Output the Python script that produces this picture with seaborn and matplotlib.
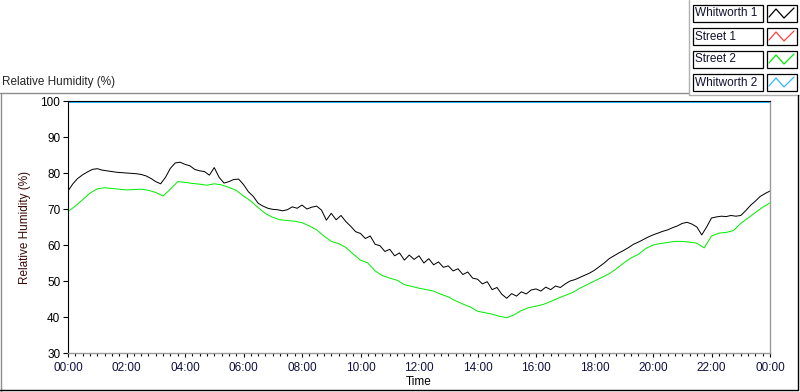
import numpy as np
import pandas as pd
import seaborn as sns
import matplotlib.pyplot as plt
from matplotlib.lines import Line2D
from matplotlib.patches import Rectangle
from matplotlib.ticker import MultipleLocator, FuncFormatter

# --- data ---
series_names = ["Whitworth 1", "Street 1", "Street 2", "Whitworth 2"]
series_colors = ["#000000", "#ff4040", "#00ee00", "#30b8ff"]

# Whitworth 1: 10-minute readings, one row per hour
w1_rh = [
    75.0, 77.0, 78.5, 79.5, 80.3, 81.0,   # 00
    81.2, 80.8, 80.6, 80.4, 80.2, 80.1,   # 01
    80.0, 79.9, 79.8, 79.6, 79.2, 78.5,   # 02
    77.6, 77.0, 78.8, 81.3, 82.8, 83.0,   # 03
    82.4, 82.0, 81.0, 80.6, 80.4, 79.4,   # 04
    81.5, 78.8, 77.2, 77.6, 78.2, 78.3,   # 05
    76.8, 74.8, 73.5, 71.6, 70.8, 70.2,   # 06
    69.9, 69.8, 69.5, 69.8, 70.6, 70.2,   # 07
    71.1, 70.0, 70.5, 70.8, 69.7, 66.9,   # 08
    68.8, 67.0, 68.2, 66.5, 65.2, 63.7,   # 09
    63.2, 61.8, 62.5, 60.2, 59.8, 58.2,   # 10
    58.8, 57.0, 57.8, 55.8, 57.2, 56.0,   # 11
    57.0, 55.0, 56.2, 54.5, 55.3, 53.8,   # 12
    54.2, 52.8, 53.4, 51.8, 52.5, 50.8,   # 13
    50.5, 49.2, 49.8, 47.6, 48.2, 46.3,   # 14
    45.2, 46.5, 45.8, 47.0, 46.4, 47.5,   # 15
    47.8, 47.2, 48.3, 47.6, 48.6, 48.2,   # 16
    49.2, 50.0, 50.4, 51.0, 51.6, 52.2,   # 17
    53.0, 54.0, 55.0, 56.2, 57.0, 57.8,   # 18
    58.5, 59.3, 60.2, 60.8, 61.5, 62.2,   # 19
    62.8, 63.3, 63.8, 64.2, 64.8, 65.3,   # 20
    66.0, 66.3, 65.8, 65.0, 62.8, 65.0,   # 21
    67.5, 67.8, 68.0, 67.9, 68.2, 68.0,   # 22
    68.2, 69.5, 71.0, 72.2, 73.5, 74.3,   # 23
    75.0,
]
w1_hours = [i / 6 for i in range(len(w1_rh))]

# Street 1: no readings inside the plotted range
s1_rh = []
s1_hours = []

# Street 2: 15-minute readings, one row per hour
s2_rh = [
    69.3, 70.8, 72.6, 74.4,   # 00
    75.6, 75.9, 75.7, 75.5,   # 01
    75.3, 75.4, 75.5, 75.2,   # 02
    74.6, 73.6, 75.5, 77.6,   # 03
    77.4, 77.1, 76.9, 76.6,   # 04
    77.0, 76.7, 76.0, 75.2,   # 05
    73.6, 72.2, 70.4, 68.7,   # 06
    67.7, 67.0, 66.8, 66.6,   # 07
    66.2, 65.3, 64.2, 62.5,   # 08
    61.0, 60.4, 59.3, 57.5,   # 09
    55.8, 55.0, 52.8, 51.5,   # 10
    50.8, 50.2, 49.0, 48.5,   # 11
    48.0, 47.6, 47.2, 46.3,   # 12
    45.6, 44.5, 43.6, 42.8,   # 13
    41.6, 41.2, 40.8, 40.2,   # 14
    39.8, 40.6, 41.8, 42.6,   # 15
    43.0, 43.5, 44.3, 45.2,   # 16
    46.0, 46.8, 48.0, 49.0,   # 17
    50.0, 51.0, 52.0, 53.4,   # 18
    55.0, 56.4, 57.4, 59.0,   # 19
    60.0, 60.4, 60.7, 61.0,   # 20
    61.0, 60.8, 60.5, 59.2,   # 21
    62.5, 63.3, 63.5, 64.0,   # 22
    66.0, 67.5, 69.0, 70.5,   # 23
    71.7,
]
s2_hours = [i / 4 for i in range(len(s2_rh))]

# Whitworth 2: pinned at the top of the scale all day
w2_rh = [100.0, 100.0]
w2_hours = [0, 24]

y_ticks = [30, 40, 50, 60, 70, 80, 90, 100]

W, H = 800, 392

def fx(px):
    return px / W

def fy(py):
    return 1 - py / H

sns.set_style("white")
plt.rcParams['font.family'] = ['Liberation Sans', 'DejaVu Sans']
plt.rcParams['font.size'] = 8.5

fig = plt.figure(figsize=(W / 100, H / 100), dpi=100)
ax = fig.add_axes([fx(68), fy(353), fx(770) - fx(68), fy(101) - fy(353)])

frames = [
    pd.DataFrame({"hour": w1_hours, "rh": w1_rh, "name": series_names[0]}),
    pd.DataFrame({"hour": s1_hours, "rh": s1_rh, "name": series_names[1]}),
    pd.DataFrame({"hour": s2_hours, "rh": s2_rh, "name": series_names[2]}),
    pd.DataFrame({"hour": w2_hours, "rh": w2_rh, "name": series_names[3]}),
]
for df, col in zip(frames, series_colors):
    if len(df) == 0:
        continue
    sns.lineplot(data=df, x="hour", y="rh", color=col, linewidth=0.72,
                 ax=ax, legend=False, estimator=None, sort=False, zorder=2,
                 antialiased=True)
# cyan line sits just under the top spine
ax.lines[-1].set_linewidth(2.2)
ax.lines[-1].set_zorder(1)

ax.set_xlim(0, 24)
ax.set_ylim(30, 100)
ax.set_yticks(y_ticks)
ax.xaxis.set_major_locator(MultipleLocator(2))
ax.xaxis.set_minor_locator(MultipleLocator(0.25))
ax.xaxis.set_major_formatter(FuncFormatter(lambda v, p: "%02d:00" % (int(round(v)) % 24)))

ax.tick_params(axis="y", which="major", direction="out", length=3.5, width=0.8,
               color="black", labelcolor="black", pad=2, labelsize=8.5, left=True)
ax.tick_params(axis="x", which="major", direction="out", length=3.2, width=0.8,
               color="black", labelcolor="#101040", pad=3, labelsize=8.5, bottom=True)
ax.tick_params(axis="x", which="minor", direction="out", length=2, width=0.8,
               color="black", bottom=True)

for side in ["left", "top"]:
    ax.spines[side].set_color("black")
    ax.spines[side].set_linewidth(0.8)
for side in ["right", "bottom"]:
    ax.spines[side].set_color("#9a9a9a")
    ax.spines[side].set_linewidth(1.0)
for sp in ax.spines.values():
    sp.set_zorder(3)

ax.set_xlabel("Time", fontsize=8.5, color="black")
ax.xaxis.set_label_coords(0.5, -(376 - 353) / 252)
ax.set_ylabel("Relative Humidity (%)", fontsize=8.5, color="#3c0a0a")
ax.yaxis.set_label_coords(-(68 - 31) / 702, 0.5)

# --- panel frame and title ---
def fig_line(x0, y0, x1, y1, color, lw=1.0):
    fig.add_artist(Line2D([fx(x0), fx(x1)], [fy(y0), fy(y1)], color=color,
                          linewidth=lw, transform=fig.transFigure))

fig.text(fx(2), fy(82), "Relative Humidity (%)", fontsize=8.5, ha="left", va="center")
fig_line(0, 92.5, 689, 92.5, "#8c8c8c")
fig_line(1, 92.5, 1, 392, "#8c8c8c")
fig_line(689, 0, 689, 95, "#b0b0b0")
fig_line(689, 95, 800, 95, "#b0b0b0")
fig_line(798, 95, 798, 390, "black")
fig_line(0, 390, 798, 390, "black")

# --- legend drawn LabVIEW-style ---
for i, (name, col) in enumerate(zip(series_names, series_colors)):
    top = 5 + i * 23
    fig.add_artist(Rectangle((fx(692.5), fy(top + 17)), fx(763) - fx(692.5), fy(top) - fy(top + 17),
                             facecolor="white", edgecolor="black", linewidth=0.9,
                             transform=fig.transFigure))
    fig.text(fx(695), fy(top + 8.5), name, fontsize=8.5, ha="left", va="center", color="#101030")
    fig.add_artist(Rectangle((fx(766.5), fy(top + 17)), fx(796.5) - fx(766.5), fy(top) - fy(top + 17),
                             facecolor="white", edgecolor="black", linewidth=0.9,
                             transform=fig.transFigure))
    zx = [769, 776, 784, 794]
    zy = [top + 12, top + 4, top + 13, top + 3]
    fig.add_artist(Line2D([fx(v) for v in zx], [fy(v) for v in zy], color=col,
                          linewidth=0.9, transform=fig.transFigure))

fig.savefig("out.png", dpi=100)
